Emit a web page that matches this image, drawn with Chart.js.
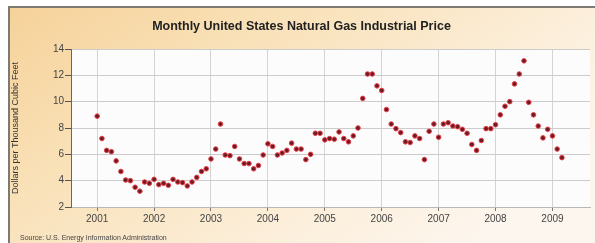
<!DOCTYPE html>
<html>
<head>
<meta charset="utf-8">
<script src="https://cdn.jsdelivr.net/npm/chart.js@4"></script>
<style>
  body { margin: 0; background: #fff; }
  #panel {
    position: absolute; left: 8px; top: 6px; width: 587px; height: 237px;
    border-left: 2px solid #7d7a72; border-top: 2px solid #7d7a72;
    box-sizing: border-box;
    background: #fbe6c4;
  }
  #chart-wrap { position: absolute; left: 0; top: 0; width: 585px; height: 235px; }
  #source {
    position: absolute; left: 10px; top: 226px;
    font-family: "Liberation Sans", Arial, sans-serif; font-size: 7px; color: #444;
  }
</style>
</head>
<body>
<div id="panel">
  <div id="chart-wrap"><canvas id="gas-chart"></canvas></div>
  <div id="source">Source: U.S. Energy Information Administration</div>
</div>
<script>
// precio mensual, dolares por mil pies cubicos
const anioInicio = 2001;
const precios2001 = [8.9, 7.2, 6.3, 6.2, 5.5, 4.7, 4.05, 4.0, 3.5, 3.2, 3.9, 3.8];
const precios2002 = [4.1, 3.7, 3.8, 3.65, 4.1, 3.9, 3.85, 3.6, 3.9, 4.25, 4.7, 4.9];
const precios2003 = [5.65, 6.4, 8.3, 5.95, 5.9, 6.6, 5.65, 5.3, 5.3, 4.9, 5.15, 5.95];
const precios2004 = [6.8, 6.6, 5.95, 6.1, 6.3, 6.85, 6.4, 6.4, 5.6, 6.0, 7.6, 7.6];
const precios2005 = [7.1, 7.2, 7.15, 7.7, 7.2, 6.95, 7.4, 8.0, 10.25, 12.1, 12.1, 11.2];
const precios2006 = [10.85, 9.4, 8.3, 7.95, 7.65, 6.95, 6.9, 7.4, 7.2, 5.6, 7.75, 8.3];
const precios2007 = [7.3, 8.3, 8.4, 8.15, 8.1, 7.9, 7.6, 6.75, 6.3, 7.05, 7.95, 7.95];
const precios2008 = [8.25, 9.0, 9.65, 10.0, 11.35, 12.1, 13.1, 9.95, 9.0, 8.15, 7.25, 7.9];
const precios2009 = [7.4, 6.4, 5.75];
const etiquetasAnios = [2001, 2002, 2003, 2004, 2005, 2006, 2007, 2008, 2009];

const porAnio = [precios2001, precios2002, precios2003, precios2004, precios2005,
                 precios2006, precios2007, precios2008, precios2009];
const puntos = [];
for (let a = 0; a < porAnio.length; a++) {
  for (let m = 0; m < porAnio[a].length; m++) {
    puntos.push({ x: anioInicio + a + m / 12, y: porAnio[a][m] });
  }
}

// fondo crema degradado + area del grafico casi blanca
const fondoPlot = {
  id: 'fondoPlot',
  beforeDraw(chart) {
    const a = chart.chartArea, ctx = chart.ctx;
    ctx.save();
    const g = ctx.createLinearGradient(0, 0, chart.width * 0.45, chart.height * 1.6);
    g.addColorStop(0, '#f6d29a');
    g.addColorStop(0.35, '#f9e1b8');
    g.addColorStop(0.75, '#fcefdc');
    g.addColorStop(1, '#fdf6ee');
    ctx.fillStyle = g;
    ctx.fillRect(0, 0, chart.width, chart.height);
    ctx.fillStyle = '#fcfcfc';
    ctx.fillRect(a.left, a.top, a.right - a.left, a.bottom - a.top);
    ctx.restore();
  }
};

const fuente = '"Liberation Sans", Arial, sans-serif';

new Chart(document.getElementById('gas-chart'), {
  type: 'scatter',
  data: {
    datasets: [{
      data: puntos,
      pointRadius: 2.3,
      pointBorderWidth: 1,
      pointBackgroundColor: '#6e1a22',
      pointBorderColor: '#e8404a'
    }]
  },
  options: {
    responsive: true,
    maintainAspectRatio: false,
    animation: false,
    layout: { padding: { left: 0, right: 2, top: 0, bottom: 0 } },
    plugins: {
      legend: { display: false },
      tooltip: { enabled: false },
      title: {
        display: true,
        text: 'Monthly United States Natural Gas Industrial Price',
        color: '#222',
        font: { family: fuente, size: 12.5, weight: 'bold' },
        padding: { top: 11, bottom: 15 }
      }
    },
    scales: {
      x: {
        type: 'linear',
        min: 2000.54,
        max: 2009.66,
        afterBuildTicks: (axis) => { axis.ticks = etiquetasAnios.map(v => ({ value: v })); },
        afterFit: (axis) => { axis.height = 36; },
        ticks: {
          color: '#444',
          font: { family: fuente, size: 10 },
          padding: 2,
          maxRotation: 0,
          callback: (v) => String(v)
        },
        grid: { color: '#d4d4d4', tickColor: '#777', tickLength: 4 },
        border: { color: '#b8b8b8', width: 1 }
      },
      y: {
        min: 2,
        max: 14,
        afterFit: (axis) => { axis.width = 61; },
        ticks: {
          stepSize: 2,
          color: '#444',
          font: { family: fuente, size: 10 },
          padding: 1
        },
        grid: { color: '#cccccc', tickColor: '#555', tickLength: 6 },
        border: { color: '#666', width: 1 },
        title: {
          display: true,
          text: 'Dollars per Thousand Cubic Feet',
          color: '#333',
          font: { family: fuente, size: 9 },
          padding: { top: 0, bottom: 5 }
        }
      }
    }
  },
  plugins: [fondoPlot]
});
</script>
</body>
</html>
